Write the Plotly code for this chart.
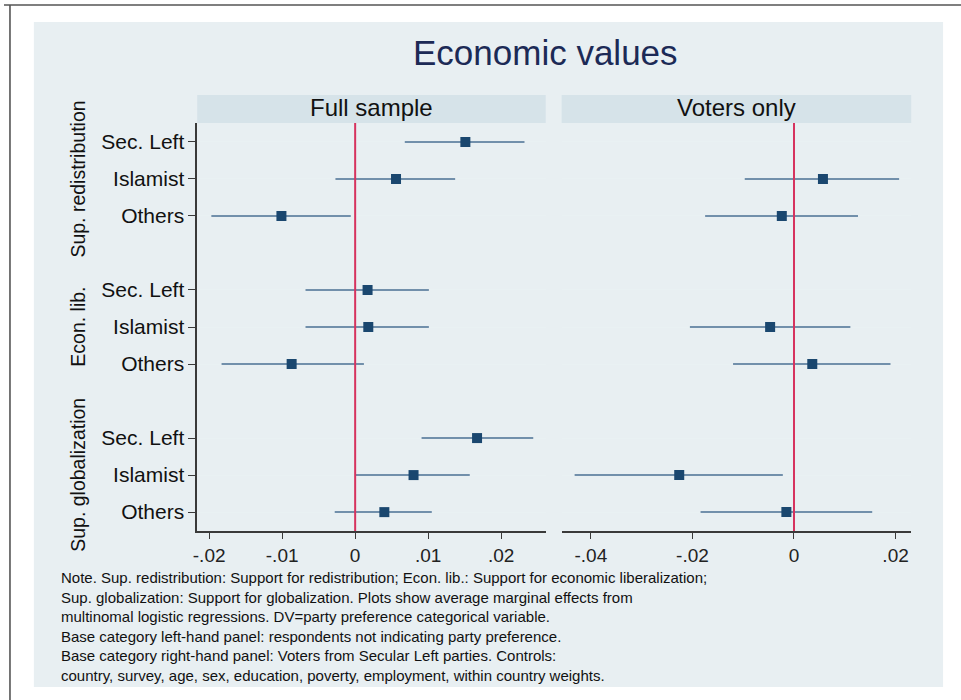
import plotly.graph_objects as go

W, H = 961, 700

# Outcomes (groups) and party rows within each group
groups = ["Sup. redistribution", "Econ. lib.", "Sup. globalization"]
parties = ["Sec. Left", "Islamist", "Others"]

# Full sample: average marginal effects with 95% CI
full_est = [0.0151, 0.0056, -0.0101, 0.0017, 0.0018, -0.0087, 0.0167, 0.0080, 0.0040]
full_lo = [0.0068, -0.0027, -0.0197, -0.0068, -0.0068, -0.0183, 0.0091, 0.0000, -0.0028]
full_hi = [0.0232, 0.0137, -0.0006, 0.0101, 0.0101, 0.0012, 0.0244, 0.0157, 0.0105]

# Voters only (Secular Left is the base category, so no estimate)
voters_est = [None, 0.0057, -0.0024, None, -0.0047, 0.0036, None, -0.0226, -0.0015]
voters_lo = [None, -0.0097, -0.0175, None, -0.0205, -0.0120, None, -0.0432, -0.0184]
voters_hi = [None, 0.0207, 0.0126, None, 0.0111, 0.0190, None, -0.0022, 0.0154]

full_ticks = [-0.02, -0.01, 0, 0.01, 0.02]
full_ticktext = ["-.02", "-.01", "0", ".01", ".02"]
voters_ticks = [-0.04, -0.02, 0, 0.02]
voters_ticktext = ["-.04", "-.02", "0", ".02"]

note_lines = [
    "Note. Sup. redistribution: Support for redistribution; Econ. lib.: Support for economic liberalization;",
    "Sup. globalization: Support for globalization. Plots show average marginal effects from",
    "multinomal logistic regressions. DV=party preference categorical variable.",
    "Base category left-hand panel: respondents not indicating party preference.",
    "Base category right-hand panel: Voters from Secular Left parties. Controls:",
    "country, survey, age, sex, education, poverty, employment, within country weights.",
]

# Row positions: one blank row between groups
ypos = [1 + 4 * g + r for g in range(len(groups)) for r in range(len(parties))]
ylabels = [p for _ in groups for p in parties]
group_centers = [2 + 4 * g for g in range(len(groups))]

FONT = "Liberation Sans, Arial, sans-serif"
NAVY = "#1a476f"
CI = "#4a6f93"
RED = "#d6335f"
BG = "#e8eff2"
STRIP = "#d6e3e9"
GRID = "#e9f1f3"
AXIS = "#3a3a3a"


def px(x):
    return x / W


def py(y):
    return 1 - y / H


def errs(est, lo, hi):
    plus = [None if e is None else h - e for e, h in zip(est, hi)]
    minus = [None if e is None else e - l for e, l in zip(est, lo)]
    return plus, minus


fig = go.Figure()

for est, lo, hi, xa, ya in [
    (full_est, full_lo, full_hi, "x", "y"),
    (voters_est, voters_lo, voters_hi, "x2", "y2"),
]:
    plus, minus = errs(est, lo, hi)
    fig.add_trace(go.Scatter(
        x=est, y=ypos, xaxis=xa, yaxis=ya, mode="markers",
        marker=dict(symbol="square", size=10, color=NAVY),
        error_x=dict(type="data", symmetric=False, array=plus, arrayminus=minus,
                     width=0, thickness=1.5, color=CI),
        showlegend=False, hoverinfo="skip",
    ))

plot_top, plot_bot = 123, 531
ydom = [py(plot_bot), py(plot_top)]
yrange = [11.51, 0.49]

common_x = dict(showgrid=False, zeroline=False, showline=True, linecolor=AXIS, linewidth=1.5,
                ticks="outside", ticklen=6, tickwidth=1.3, tickcolor=AXIS,
                tickfont=dict(family=FONT, size=19, color="#222"))
common_y = dict(range=yrange, tickvals=ypos, showgrid=True, gridcolor=GRID, gridwidth=1.2,
                zeroline=False)

fig.update_layout(
    width=W, height=H,
    margin=dict(l=0, r=0, t=0, b=0),
    paper_bgcolor="white", plot_bgcolor="white",
    xaxis=dict(domain=[px(194), px(544)], range=[-0.02164, 0.02611],
               tickvals=full_ticks, ticktext=full_ticktext, anchor="y", **common_x),
    xaxis2=dict(domain=[px(560), px(911)], range=[-0.04575, 0.02308],
                tickvals=voters_ticks, ticktext=voters_ticktext, anchor="y2", **common_x),
    yaxis=dict(domain=ydom, ticktext=ylabels, showline=True, linecolor=AXIS, linewidth=1.5,
               ticks="outside", ticklen=7, tickwidth=1.3, tickcolor=AXIS,
               tickfont=dict(family=FONT, size=21, color="#111"), anchor="x", **common_y),
    yaxis2=dict(domain=ydom, showticklabels=False, showline=False, ticks="",
                anchor="x2", **common_y),
)

shapes = [
    # outer background panel
    dict(type="rect", xref="paper", yref="paper", x0=px(30), x1=px(943), y0=py(687), y1=py(22),
         fillcolor=BG, line=dict(width=0), layer="below"),
    # frame lines at top and left
    dict(type="line", xref="paper", yref="paper", x0=0, x1=1, y0=py(5), y1=py(5),
         line=dict(color="#555", width=1.6)),
    dict(type="line", xref="paper", yref="paper", x0=px(6), x1=px(6), y0=0, y1=py(5),
         line=dict(color="#555", width=1.6)),
    # panel header strips
    dict(type="rect", xref="paper", yref="paper", x0=px(194), x1=px(544), y0=py(123), y1=py(95),
         fillcolor=STRIP, line=dict(width=0)),
    dict(type="rect", xref="paper", yref="paper", x0=px(560), x1=px(911), y0=py(123), y1=py(95),
         fillcolor=STRIP, line=dict(width=0)),
    # reference line at zero
    dict(type="line", xref="x", yref="y domain", x0=0, x1=0, y0=0, y1=1,
         line=dict(color=RED, width=2)),
    dict(type="line", xref="x2", yref="y2 domain", x0=0, x1=0, y0=0, y1=1,
         line=dict(color=RED, width=2)),
]
fig.update_layout(shapes=shapes)

ann = [
    dict(text="Economic values", x=px(544), y=py(52), xref="paper", yref="paper",
         showarrow=False, xanchor="center", yanchor="middle",
         font=dict(family=FONT, size=35, color="#1c2a56")),
    dict(text="Full sample", x=px(369), y=py(108), xref="paper", yref="paper",
         showarrow=False, xanchor="center", yanchor="middle",
         font=dict(family=FONT, size=24, color="#111")),
    dict(text="Voters only", x=px(735.5), y=py(108), xref="paper", yref="paper",
         showarrow=False, xanchor="center", yanchor="middle",
         font=dict(family=FONT, size=24, color="#111")),
    dict(text="<br>".join(note_lines), x=px(55), y=py(567), xref="paper", yref="paper",
         showarrow=False, xanchor="left", yanchor="top", align="left",
         font=dict(family=FONT, size=15, color="#111")),
]
for g, c in zip(groups, group_centers):
    ann.append(dict(text=g, x=px(74), y=c, xref="paper", yref="y", textangle=-90,
                    showarrow=False, xanchor="center", yanchor="middle",
                    font=dict(family=FONT, size=19.5, color="#111")))
fig.update_layout(annotations=ann)

fig.write_html("out.html")
